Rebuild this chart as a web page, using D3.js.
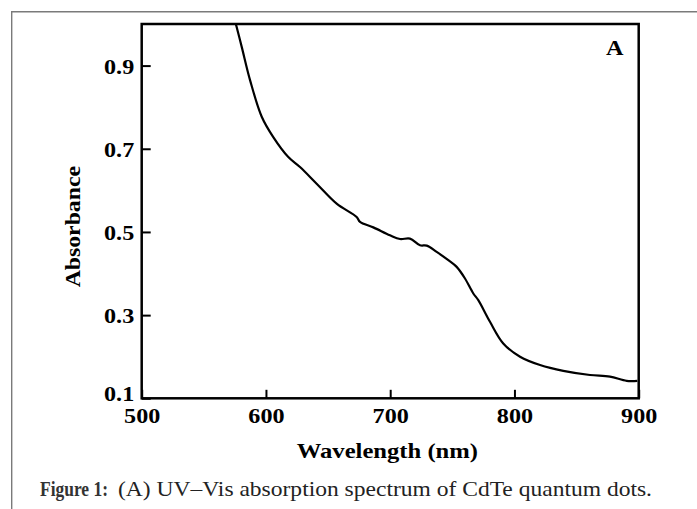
<!DOCTYPE html>
<html>
<head>
<meta charset="utf-8">
<script src="https://cdn.jsdelivr.net/npm/d3@7"></script>
<style>
	body { margin: 0; background: #ffffff; }
	.tick_label { font-family: "Liberation Serif", "Times New Roman", serif; font-weight: bold; font-size: 21px; fill: #000; }
	.axis_label { font-family: "Liberation Serif", "Times New Roman", serif; font-weight: bold; font-size: 22px; fill: #000; }
	.caption { font-family: "Liberation Serif", "Times New Roman", serif; font-size: 21px; fill: #222; }
</style>
</head>
<body>
<div id="svg_chart"></div>
<script>
// Spectrum (wavelength in nm, absorbance)
var wavelength = [575.7, 580.5, 587.2, 596.6, 605.9, 618.0, 627.4, 640.8, 656.9, 673.0,
	675.7, 686.4, 699.8, 707.9, 715.9, 724.0, 729.4, 737.4, 746.8, 753.5,
	760.2, 766.9, 770.9, 780.3, 791.0, 804.5, 820.6, 839.3, 860.8, 876.9, 890.3, 898.9];
var absorbance = [1.001, 0.945, 0.865, 0.777, 0.728, 0.680, 0.656, 0.616, 0.568, 0.536,
	0.524, 0.511, 0.492, 0.483, 0.484, 0.468, 0.467, 0.452, 0.432, 0.416,
	0.388, 0.352, 0.336, 0.284, 0.232, 0.200, 0.180, 0.166, 0.156, 0.152, 0.142, 0.142];

// Tick values
var xTicks = [500, 600, 700, 800, 900];
var yTicks = [0.1, 0.3, 0.5, 0.7, 0.9];

// Texts
var xTitle = "Wavelength (nm)";
var yTitle = "Absorbance";
var panelLabel = "A";
var captionHead = "Figure 1:";
var captionBody = "(A) UV\u2013Vis absorption spectrum of CdTe quantum dots.";

// Setting margin for svg
var margin = { top: 24, left: 141.7, right: 58.3, bottom: 110.7 };

var size = {
	width: 697,
	height: 509,
	inner_width: 697 - (margin.left + margin.right),
	inner_height: 509 - (margin.top + margin.bottom)
};

// scales
var xScale = d3.scaleLinear()
	.domain([500, 900])
	.range([0, size.inner_width]);

var yScale = d3.scaleLinear()
	.domain([0.1, 1.0])
	.range([size.inner_height, 0]);

var svg = d3.select("#svg_chart").append("svg")
	.attr("width", size.width)
	.attr("height", size.height)
	.style("display", "block");

// outer grey frame (top and left only)
svg.append("path")
	.attr("d", "M11.7,509 L11.7,11.7 L697,11.7")
	.attr("fill", "none")
	.attr("stroke", "#7a7a7a")
	.attr("stroke-width", 1.4);

var g = svg.append("g")
	.attr("transform", "translate(" + margin.left + "," + margin.top + ")");

// clip the curve to the plot box
g.append("clipPath")
	.attr("id", "plot_clip")
	.append("rect")
	.attr("width", size.inner_width)
	.attr("height", size.inner_height);

// stretch text horizontally a little like the original scan
function stretch(sel, k) {
	sel.each(function() {
		var t = d3.select(this);
		var x = +t.attr("x") || 0;
		var y = +t.attr("y") || 0;
		t.attr("x", 0).attr("y", 0)
			.attr("transform", "translate(" + x + "," + y + ") scale(" + k + ",1)");
	});
}

// x axis, ticks point inward
var x_axis = d3.axisBottom(xScale)
	.tickValues(xTicks)
	.tickSizeInner(-8.5)
	.tickSizeOuter(0)
	.tickPadding(10)
	.tickFormat(d3.format("d"));

var xg = g.append("g")
	.attr("transform", "translate(0," + size.inner_height + ")")
	.call(x_axis);
xg.select(".domain").remove();
xg.selectAll("line").attr("stroke", "#000").attr("stroke-width", 2);
xg.selectAll("text")
	.attr("class", "tick_label")
	.attr("font-family", null).attr("font-size", null)
	.attr("dy", "0.71em")
	.call(stretch, 1.15);

// y axis, ticks point inward
var y_axis = d3.axisLeft(yScale)
	.tickValues(yTicks)
	.tickSizeInner(-9)
	.tickSizeOuter(0)
	.tickPadding(7.5)
	.tickFormat(d3.format(".1f"));

var yg = g.append("g").call(y_axis);
yg.select(".domain").remove();
yg.selectAll("line").attr("stroke", "#000").attr("stroke-width", 2);
yg.selectAll("text")
	.attr("class", "tick_label")
	.attr("font-family", null).attr("font-size", null)
	.attr("dy", "0.36em")
	.attr("y", function(d) { return d === 0.1 ? -5 : 0; })
	.call(stretch, 1.15);

// plot frame
g.append("rect")
	.attr("width", size.inner_width)
	.attr("height", size.inner_height)
	.attr("fill", "none")
	.attr("stroke", "#000")
	.attr("stroke-width", 2.5);

// spectrum line
var line = d3.line()
	.x(function(d, i) { return xScale(wavelength[i]); })
	.y(function(d, i) { return yScale(absorbance[i]); })
	.curve(d3.curveCatmullRom.alpha(0.5));

g.append("path")
	.datum(wavelength)
	.attr("clip-path", "url(#plot_clip)")
	.attr("d", line)
	.attr("fill", "none")
	.attr("stroke", "#000")
	.attr("stroke-width", 2.2)
	.attr("stroke-linejoin", "round");

// panel label
g.append("text")
	.attr("class", "axis_label")
	.attr("transform", "translate(" + (606 - margin.left) + "," + (55 - margin.top) + ") scale(1.1,1)")
	.text(panelLabel);

// x axis title
svg.append("text")
	.attr("class", "axis_label")
	.attr("text-anchor", "middle")
	.attr("transform", "translate(387.4,458) scale(1.12,1)")
	.text(xTitle);

// y axis title
svg.append("text")
	.attr("class", "axis_label")
	.attr("text-anchor", "middle")
	.attr("transform", "translate(80,226.7) rotate(-90) scale(1.08,1)")
	.text(yTitle);

// caption
svg.append("text")
	.attr("class", "caption")
	.attr("x", 40)
	.attr("y", 496)
	.attr("textLength", 68)
	.attr("lengthAdjust", "spacingAndGlyphs")
	.style("font-weight", "bold")
	.style("fill", "#333")
	.text(captionHead);

svg.append("text")
	.attr("class", "caption")
	.attr("x", 118)
	.attr("y", 496)
	.attr("textLength", 534)
	.attr("lengthAdjust", "spacingAndGlyphs")
	.text(captionBody);
</script>
</body>
</html>
